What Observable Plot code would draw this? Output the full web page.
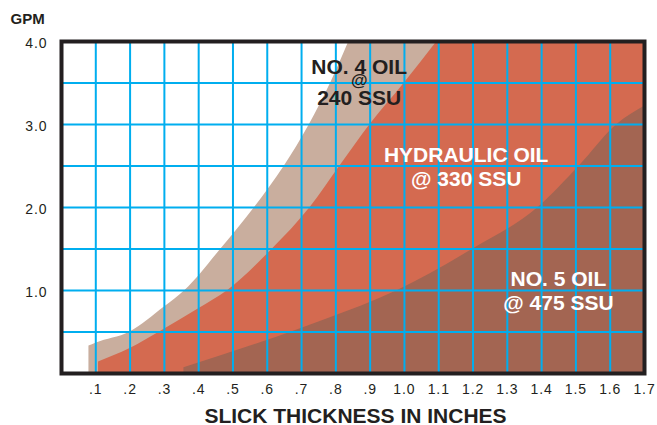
<!DOCTYPE html>
<html>
<head>
<meta charset="utf-8">
<script src="https://cdn.jsdelivr.net/npm/d3@7"></script>
<script src="https://cdn.jsdelivr.net/npm/@observablehq/plot@0.6"></script>
<style>
  html, body { margin: 0; padding: 0; background: #fff; }
  #chart svg { display: block; }
  #chart g[aria-label="x-axis tick label"] text,
  #chart g[aria-label="y-axis tick label"] text { letter-spacing: 0.9px; }
</style>
</head>
<body>
<div id="chart"></div>
<script>
// ---- Data ----
// Slick thickness (inches) vs recovery rate (GPM); last point of a series
// that runs off the top of the chart is held at the top edge (4.0 GPM).
const no4X = [0.08, 0.1, 0.2, 0.3, 0.36, 0.465, 0.563, 0.65, 0.723, 0.785, 0.838, 1.7];
const no4Y = [0.33, 0.365, 0.5, 0.8, 1.0, 1.5, 2.0, 2.5, 3.0, 3.5, 4.0, 4.0];

const hydX = [0.108, 0.2, 0.286, 0.4, 0.485, 0.615, 0.725, 0.812, 0.9, 1.0, 1.095, 1.7];
const hydY = [0.14, 0.3, 0.5, 0.78, 1.0, 1.5, 2.0, 2.5, 3.0, 3.5, 4.0, 4.0];

const no5X = [0.357, 0.636, 0.77, 0.98, 1.2, 1.39, 1.51, 1.62, 1.7];
const no5Y = [0.07, 0.45, 0.65, 1.0, 1.5, 2.0, 2.5, 3.0, 3.22];

const xTicks = [0.1, 0.2, 0.3, 0.4, 0.5, 0.6, 0.7, 0.8, 0.9, 1.0, 1.1, 1.2, 1.3, 1.4, 1.5, 1.6, 1.7];
const xTickLabels = [".1", ".2", ".3", ".4", ".5", ".6", ".7", ".8", ".9", "1.0", "1.1", "1.2", "1.3", "1.4", "1.5", "1.6", "1.7"];
const yTicks = [1, 2, 3, 4];
const yTickLabels = ["1.0", "2.0", "3.0", "4.0"];
const xGrid = [0.1, 0.2, 0.3, 0.4, 0.5, 0.6, 0.7, 0.8, 0.9, 1.0, 1.1, 1.2, 1.3, 1.4, 1.5, 1.6];
const yGrid = [0.5, 1.0, 1.5, 2.0, 2.5, 3.0, 3.5];

const no4Label = ["NO. 4 OIL", "240 SSU"];
const no4LabelX = [0.868, 0.868];
const no4LabelY = [3.61, 3.23];
const no4At = ["@"];
const no4AtX = [0.868];
const no4AtY = [3.46];
const whiteLabels = ["HYDRAULIC OIL", "@ 330 SSU", "NO. 5 OIL", "@ 475 SSU"];
const whiteLabelX = [1.18, 1.18, 1.449, 1.449];
const whiteLabelY = [2.546, 2.265, 1.06, 0.771];

const yTitle = ["GPM"];
const xTitle = ["SLICK THICKNESS IN INCHES"];

// ---- tables built from the arrays ----
const toRows = (X, Y) => X.map((x, i) => ({x, y: Y[i]}));
const no4 = toRows(no4X, no4Y);
const hyd = toRows(hydX, hydY);
const no5 = toRows(no5X, no5Y);
const lbl = (T, X, Y) => T.map((t, i) => ({t, x: X[i], y: Y[i]}));

// Monotone curve, but a final flat segment (top-edge hold) is drawn straight.
function capCurve(context) {
  const inner = d3.curveMonotoneX(context);
  let pts = [], line = 0;
  return {
    areaStart() { line = 0; inner.areaStart(); },
    areaEnd() { inner.areaEnd(); },
    lineStart() { pts = []; },
    point(x, y) { pts.push([+x, +y]); },
    lineEnd() {
      const n = pts.length;
      const cap = line === 0 && n > 2 && Math.abs(pts[n - 1][1] - pts[n - 2][1]) < 1e-6;
      const body = cap ? pts.slice(0, -1) : pts;
      inner.lineStart();
      for (const p of body) inner.point(p[0], p[1]);
      inner.lineEnd();
      if (cap) context.lineTo(pts[n - 1][0], pts[n - 1][1]);
      line++;
    }
  };
}

const FONT = "'Liberation Sans', Arial, Helvetica, sans-serif";
const INK = "#231f20";

const chart = Plot.plot({
  width: 657,
  height: 425,
  marginLeft: 61,
  marginRight: 13,
  marginTop: 41,
  marginBottom: 52,
  style: {fontFamily: FONT, fontSize: "14px", background: "#ffffff", color: INK, overflow: "visible"},
  x: {domain: [0, 1.7]},
  y: {domain: [0, 4]},
  marks: [
    Plot.areaY(no4, {x: "x", y: "y", fill: "#c9ae9e", curve: capCurve, clip: true}),
    Plot.areaY(hyd, {x: "x", y: "y", fill: "#d46a50", curve: capCurve, clip: true}),
    Plot.areaY(no5, {x: "x", y: "y", fill: "#a36552", curve: capCurve, clip: true}),
    Plot.ruleX(xGrid, {stroke: "#00aeef", strokeWidth: 2}),
    Plot.ruleY(yGrid, {stroke: "#00aeef", strokeWidth: 2}),
    Plot.axisX({ticks: xTicks, tickSize: 0, tickPadding: 11, fontSize: 14,
      tickFormat: (d) => xTickLabels[xTicks.findIndex((t) => Math.abs(t - d) < 1e-9)], label: null}),
    Plot.axisY({ticks: yTicks, tickSize: 0, tickPadding: 14, fontSize: 14, dy: 2,
      tickFormat: (d) => yTickLabels[yTicks.indexOf(d)], label: null}),
    Plot.text(lbl(no4Label, no4LabelX, no4LabelY), {x: "x", y: "y", text: "t", fill: INK,
      fontSize: 21, fontWeight: "bold", lineAnchor: "bottom", textAnchor: "middle"}),
    Plot.text(lbl(no4At, no4AtX, no4AtY), {x: "x", y: "y", text: "t", fill: INK,
      fontSize: 17, fontWeight: "bold", lineAnchor: "bottom", textAnchor: "middle"}),
    Plot.text(lbl(whiteLabels, whiteLabelX, whiteLabelY), {x: "x", y: "y", text: "t", fill: "#ffffff",
      fontSize: 21, fontWeight: "bold", lineAnchor: "bottom", textAnchor: "middle"}),
    Plot.text(yTitle, {frameAnchor: "top-left", text: (d) => d, dx: -51, dy: -17.7,
      textAnchor: "start", lineAnchor: "bottom", fontSize: 15, fontWeight: "bold", fill: INK}),
    Plot.text(xTitle, {frameAnchor: "bottom", text: (d) => d, dx: 2.5, dy: 49,
      textAnchor: "middle", lineAnchor: "bottom", fontSize: 21, fontWeight: "bold", fill: INK}),
    Plot.frame({stroke: INK, strokeWidth: 4})
  ]
});

document.getElementById("chart").append(chart);
</script>
</body>
</html>
